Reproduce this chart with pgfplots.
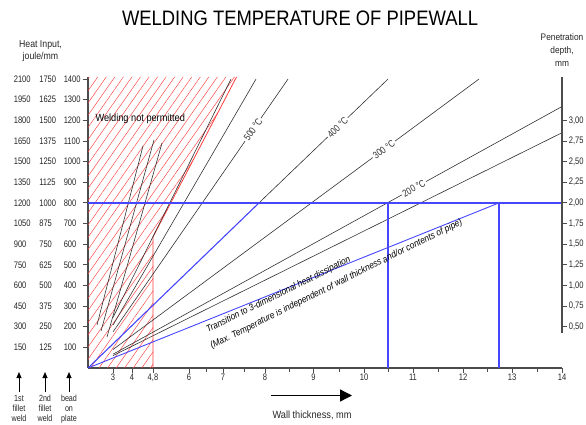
\documentclass[border=0pt]{standalone}
\usepackage{pgfplots}
\pgfplotsset{compat=1.18}
\usepackage{fontspec}
\setmainfont{Liberation Sans}[FakeStretch=0.88]
\newfontfamily\narrow{Liberation Sans}[FakeStretch=0.8]
\usetikzlibrary{patterns.meta, arrows.meta}
\definecolor{lblue}{RGB}{70,70,255}
\definecolor{lred}{RGB}{255,60,60}
\definecolor{lgray}{RGB}{50,50,50}
\newcommand\tl[3]{\makebox[25.5bp][l]{#1}\makebox[24.5bp][l]{#2}\makebox[17bp][l]{#3}}
\begin{document}
\begin{tikzpicture}[x=1bp,y=1bp]
\begin{axis}[
  name=main,
  scale only axis, width=474bp, height=291bp,
  xmin=0, xmax=47.4, ymin=0, ymax=1410,
  axis x line*=bottom, axis y line*=left,
  axis line style={black!70, line width=1.1bp},
  tick align=outside, major tick length=5bp, minor tick length=4bp,
  tick style={black!70, line width=0.8bp},
  xtick={2.5,4.4,6.5,10.1,13.5,17.7,22.55,27.6,32.5,37.5,42.4,47.4},
  xticklabels={3,4,{4,8},6,7,8,9,10,11,12,13,14},
  minor xtick={11.8,15.6,20.1,25.1,30.0,35.0,39.9,44.9},
  ytick={100,200,...,1400},
  yticklabels={\tl{150}{125}{100},\tl{300}{250}{200},\tl{450}{375}{300},\tl{600}{500}{400},\tl{750}{625}{500},\tl{900}{750}{600},\tl{1050}{875}{700},\tl{1200}{1000}{800},\tl{1350}{1125}{900},\tl{1500}{1250}{1000},\tl{1650}{1375}{1100},\tl{1800}{1500}{1200},\tl{1950}{1625}{1300},\tl{2100}{1750}{1400}},
  /pgf/number format/assume math mode=true,
  ticklabel style={font=\narrow\fontsize{9.5}{10}\selectfont, text=black!85},
  yticklabel style={anchor=east, inner sep=0pt, xshift=-2bp},
  xticklabel style={inner sep=1pt},
  clip=false,
]
% hatched region
\addplot[draw=none, pattern={Lines[angle=55,distance=7bp,line width=0.45bp]}, pattern color=lred]
  coordinates {(0,0) (6.5,0) (6.5,635) (14.85,1410) (0,1410)} -- cycle;
\addplot[lred, line width=0.8bp] coordinates {(6.5,0) (6.5,635) (14.85,1410)};
% short steep lines
\addplot[lgray, line width=0.6bp] coordinates {(0.9,208) (5.5,1076)};
\addplot[lgray, line width=0.6bp] coordinates {(1.3,179) (6.6,1105)};
\addplot[lgray, line width=0.6bp] coordinates {(1.9,150) (7.4,1090)};
% temperature lines
\addplot[lgray, line width=0.6bp] coordinates {(2.5,245) (14.3,1400)};
\addplot[lgray, line width=0.6bp] coordinates {(2.5,208) (16.8,1400)};
\addplot[lgray, line width=0.6bp] coordinates {(2.5,175) (20.0,1400)}
  node[pos=0.8, sloped, fill=white, inner sep=1.5pt, font=\narrow\fontsize{10}{10}\selectfont] {500 °C};
\addplot[lgray, line width=0.6bp] coordinates {(17.1,800) (30.0,1400)}
  node[pos=0.61, sloped, fill=white, inner sep=1.5pt, font=\narrow\fontsize{10}{10}\selectfont] {400 °C};
\addplot[lgray, line width=0.6bp] coordinates {(2.5,89.5) (39.1,1400)}
  node[pos=0.74, sloped, fill=white, inner sep=1.5pt, font=\narrow\fontsize{10}{10}\selectfont] {300 °C};
\addplot[lgray, line width=0.6bp] coordinates {(2.5,66.8) (47.4,1267)}
  node[pos=0.67, sloped, fill=white, inner sep=1.5pt, font=\narrow\fontsize{10}{10}\selectfont] {200 °C};
\addplot[lgray, line width=0.6bp] coordinates {(2.5,60) (47.4,1140)};
% blue lines
\addplot[lblue, line width=1.1bp] coordinates {(0,0) (17.1,800)};
\addplot[lblue, line width=0.9bp] coordinates {(0,0) (41.1,800)};
\addplot[lblue, line width=1.4bp] coordinates {(0,800) (47.4,800)};
\addplot[lblue, line width=1.1bp] coordinates {(30.0,0) (30.0,800)};
\addplot[lblue, line width=1.1bp] coordinates {(41.1,0) (41.1,800)};
\node[anchor=west, font=\fontsize{10.5}{10}\selectfont] at (axis cs:0.4,1206) {Welding not permitted};
\node[anchor=base west, rotate=26.5, inner sep=0pt, font=\itshape\fontsize{9.5}{10}\selectfont] at (axis cs:12.0,170) {Transition to 3-dimensional heat dissipation};
\node[anchor=base west, rotate=26.5, inner sep=0pt, font=\itshape\fontsize{9.5}{10}\selectfont] at (axis cs:12.4,92) {(Max. Temperature is independent of wall thickness and/or contents of pipe)};
% right axis (penetration depth, mm; 1 mm = 400 units)
\draw[black!70, line width=1.1bp] (axis cs:47.4,168) -- (axis cs:47.4,1410);
\pgfplotsinvokeforeach{0.50,0.75,1.00,1.25,1.50,1.75,2.00,2.25,2.50,2.75,3.00}{
  \draw[black!70, line width=0.8bp] (axis cs:47.4,{400*#1}) -- ++(5bp,0)
    node[anchor=west, inner sep=0pt, xshift=1.5bp, text=black!85, font=\narrow\fontsize{9.5}{10}\selectfont]
    {\pgfmathprintnumber[use comma, fixed, fixed zerofill, precision=2]{#1}};
}
\coordinate (O) at (axis cs:0,0);
\end{axis}
\begin{scope}[shift={(O)}, xshift=-88bp, yshift=-56bp]
\node[font=\fontsize{21}{22}\selectfont] at (300,406) {WELDING TEMPERATURE OF PIPEWALL};
\node[align=center, font=\fontsize{10}{12}\selectfont, text=black!85] at (40.5,373) {Heat Input,\\joule/mm};
\node[align=center, font=\fontsize{9.5}{13}\selectfont, text=black!85] at (562,374) {Penetration\\depth,\\mm};
\node[font=\fontsize{10.5}{10}\selectfont, text=black!85] at (312,8.5) {Wall thickness, mm};
\draw[line width=1.3bp, -{Triangle[length=12bp,width=12bp]}] (271,28.5) -- (352,28.5);
\foreach \xx/\txt in {19/{1st\\fillet\\weld}, 45/{2nd\\fillet\\weld}, 69/{bead\\on\\plate}} {
  \draw[line width=0.8bp, -{Triangle[length=6bp,width=5bp]}] (\xx,32) -- (\xx,52);
  \node[anchor=north, align=center, inner sep=0pt, font=\narrow\fontsize{9}{10}\selectfont, text=black!85] at (\xx,29) {\txt};
}
\pgfresetboundingbox
\path[use as bounding box] (0,0) rectangle (586,424);
\end{scope}
\end{tikzpicture}
\end{document}
